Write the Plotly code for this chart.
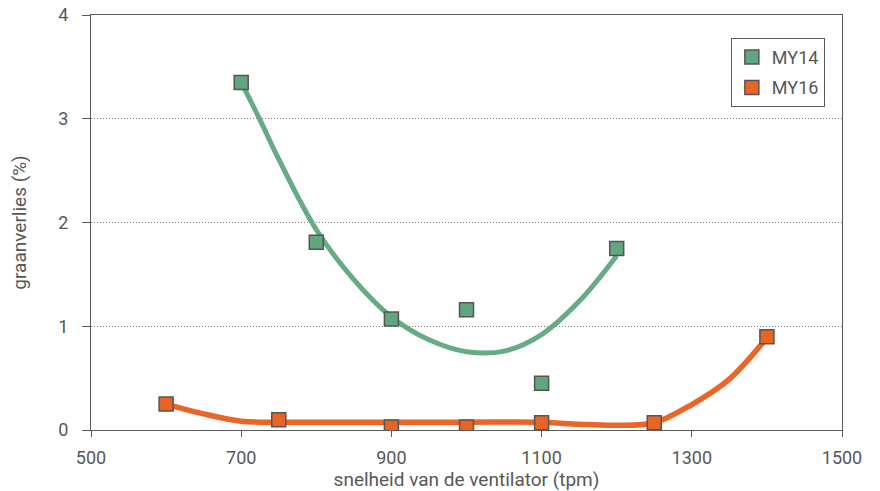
import plotly.graph_objects as go

# Measured points
my14_x = [700, 800, 900, 1000, 1100, 1200]
my14_y = [3.35, 1.81, 1.07, 1.16, 0.45, 1.75]

my16_x = [600, 750, 900, 1000, 1100, 1250, 1400]
my16_y = [0.25, 0.10, 0.03, 0.03, 0.07, 0.07, 0.90]

# Trend curves
my14_trend_x = [700, 725, 750, 800, 850, 900, 950, 1000, 1050, 1100, 1150, 1200]
my14_trend_y = [3.35, 2.99, 2.61, 1.93, 1.45, 1.09, 0.87, 0.755, 0.76, 0.92, 1.24, 1.68]

my16_trend_x = [600, 650, 700, 750, 800, 900, 1000, 1100, 1150, 1200, 1250, 1300, 1350, 1400]
my16_trend_y = [0.25, 0.155, 0.085, 0.075, 0.075, 0.075, 0.075, 0.075, 0.055, 0.045, 0.07, 0.245, 0.49, 0.89]

x_ticks = [500, 700, 900, 1100, 1300, 1500]
y_ticks = [0, 1, 2, 3, 4]

GREEN_LINE = "#66AB84"
GREEN_FILL = "#62A67E"
ORANGE_LINE = "#EA6526"
ORANGE_FILL = "#E86424"
TEXT = "#575757"
AXIS = "#5a5a5a"

fig = go.Figure()

fig.add_trace(go.Scatter(x=my14_trend_x, y=my14_trend_y, mode="lines",
                         line=dict(color=GREEN_LINE, width=5, shape="spline", smoothing=1.0),
                         showlegend=False, hoverinfo="skip"))
fig.add_trace(go.Scatter(x=my16_trend_x, y=my16_trend_y, mode="lines",
                         line=dict(color=ORANGE_LINE, width=5.5, shape="spline", smoothing=1.0),
                         showlegend=False, hoverinfo="skip"))

fig.add_trace(go.Scatter(x=my14_x, y=my14_y, mode="markers", name="MY14", legendgroup="a",
                         marker=dict(symbol="square", size=14, color=GREEN_FILL,
                                     line=dict(color="#555555", width=1.5))))
fig.add_trace(go.Scatter(x=my16_x, y=my16_y, mode="markers", name="MY16", legendgroup="b",
                         marker=dict(symbol="square", size=14, color=ORANGE_FILL,
                                     line=dict(color="#555555", width=1.5))))

fig.update_layout(
    width=880, height=491,
    margin=dict(l=91, r=38, t=15, b=61, autoexpand=False),
    paper_bgcolor="white", plot_bgcolor="white",
    font=dict(family="Roboto, Noto Sans, sans-serif", size=18, color=TEXT),
    legend=dict(x=0.852, y=0.945, xanchor="left", yanchor="top",
                bgcolor="white", bordercolor=AXIS, borderwidth=1,
                font=dict(size=18, color=TEXT), tracegroupgap=4,
                itemsizing="trace"),
    xaxis=dict(range=[500, 1500], tickvals=x_ticks, ticktext=[str(v) for v in x_ticks],
               automargin=False,
               showline=True, linecolor=AXIS, linewidth=1, mirror=True,
               ticks="outside", ticklen=6, tickcolor=AXIS, tickwidth=1,
               ticklabelstandoff=5,
               showgrid=False, zeroline=False,
               title=dict(text="snelheid van de ventilator (tpm)", standoff=8,
                          font=dict(size=19, color=TEXT)),
               tickfont=dict(size=18, color=TEXT)),
    yaxis=dict(range=[0, 4], tickvals=y_ticks, ticktext=[str(v) for v in y_ticks],
               automargin=False,
               showline=True, linecolor=AXIS, linewidth=1, mirror=True,
               ticks="outside", ticklen=8, tickcolor=AXIS, tickwidth=1,
               ticklabelstandoff=10,
               showgrid=True, gridcolor="#808080", gridwidth=1, griddash="1px,2px",
               zeroline=False,
               title=dict(text="graanverlies (%)", standoff=26,
                          font=dict(size=19, color=TEXT)),
               tickfont=dict(size=18, color=TEXT)),
)

fig.write_html("out.html", config={"displayModeBar": False},
               post_script="document.body.style.margin='0';document.body.style.overflow='hidden';")
